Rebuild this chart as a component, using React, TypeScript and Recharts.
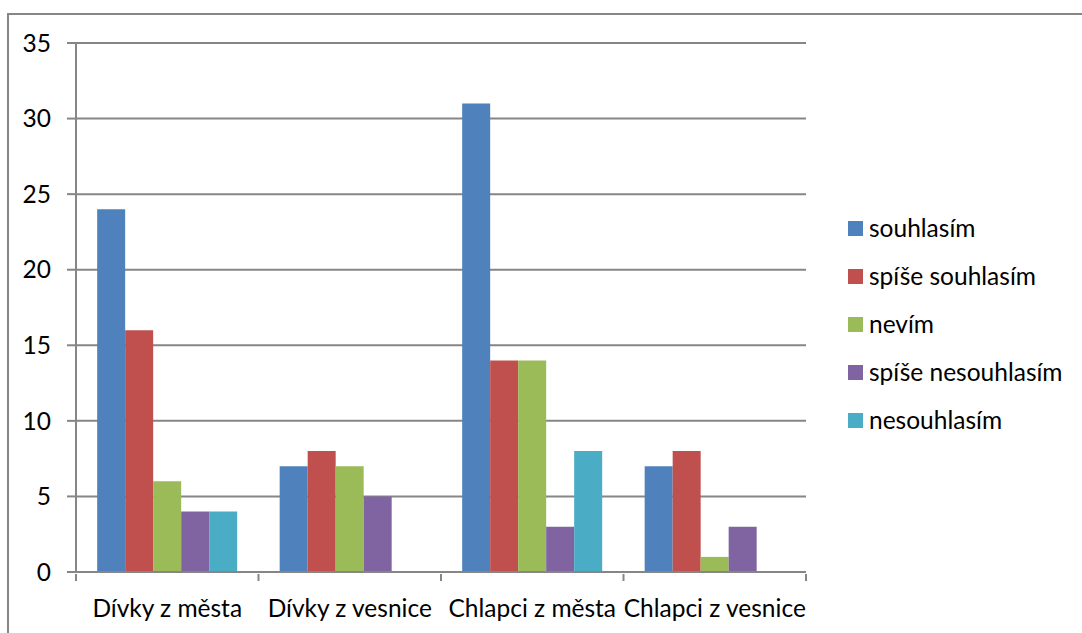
import { Bar, BarChart, CartesianGrid, XAxis, YAxis } from 'recharts';

const categories = ['Dívky z města', 'Dívky z vesnice', 'Chlapci z města', 'Chlapci z vesnice'];
const souhlasim = [24, 7, 31, 7];
const spiseSouhlasim = [16, 8, 14, 8];
const nevim = [6, 7, 14, 1];
const spiseNesouhlasim = [4, 5, 3, 3];
const nesouhlasim = [4, 0, 8, 0];
const yTicks = [0, 5, 10, 15, 20, 25, 30, 35];

const series = [
  { key: 'souhlasim', name: 'souhlasím', color: '#4F81BD', values: souhlasim },
  { key: 'spiseSouhlasim', name: 'spíše souhlasím', color: '#C0504D', values: spiseSouhlasim },
  { key: 'nevim', name: 'nevím', color: '#9BBB59', values: nevim },
  { key: 'spiseNesouhlasim', name: 'spíše nesouhlasím', color: '#8064A2', values: spiseNesouhlasim },
  { key: 'nesouhlasim', name: 'nesouhlasím', color: '#4BACC6', values: nesouhlasim },
];

const data = categories.map((name, i) => {
  const row: Record<string, string | number> = { name };
  series.forEach((s) => (row[s.key] = s.values[i]));
  return row;
});

const W = 1082;
const H = 633;
const PLOT_LEFT = 76;
const PLOT_RIGHT = 806;
const FONT = 'Lato, "Open Sans", sans-serif';
const FONT_SIZE = 24.5;
const AXIS = '#868686';

const halfBand = (PLOT_RIGHT - PLOT_LEFT) / categories.length / 2;

function CategoryTick(props: any) {
  const { x, y, payload, index } = props;
  return (
    <g>
      <line x1={x - halfBand} x2={x - halfBand} y1={y} y2={y + 7} stroke={AXIS} strokeWidth={2} />
      {index === categories.length - 1 && (
        <line x1={x + halfBand} x2={x + halfBand} y1={y} y2={y + 7} stroke={AXIS} strokeWidth={2} />
      )}
      <text x={x} y={y + 43} textAnchor="middle" fill="#000" fontSize={FONT_SIZE} fontFamily={FONT}>
        {payload.value}
      </text>
    </g>
  );
}

export default function App() {
  return (
    <div style={{ position: 'relative', width: W, height: H, overflow: 'hidden', background: '#fff', fontFamily: FONT }}>
      <style>{'body{margin:0}'}</style>
      <div
        style={{
          position: 'absolute',
          left: 7,
          top: 13,
          width: 1200,
          height: 800,
          border: `2px solid ${AXIS}`,
        }}
      />
      <div style={{ position: 'absolute', left: 0, top: 0 }}>
        <BarChart
          width={W}
          height={H}
          data={data}
          margin={{ top: 43, right: W - PLOT_RIGHT, bottom: 31, left: 0 }}
          barCategoryGap="11.6%"
          barGap={0}
        >
          <CartesianGrid horizontal vertical={false} stroke={AXIS} strokeWidth={2} />
          <XAxis
            dataKey="name"
            height={30}
            tickSize={0}
            tickLine={false}
            axisLine={{ stroke: AXIS, strokeWidth: 2 }}
            tick={<CategoryTick />}
            interval={0}
          />
          <YAxis
            width={PLOT_LEFT}
            domain={[0, 35]}
            ticks={yTicks}
            interval={0}
            tickSize={9}
            tickMargin={16}
            tickLine={{ stroke: AXIS, strokeWidth: 2 }}
            axisLine={{ stroke: AXIS, strokeWidth: 2 }}
            tick={{ fill: '#000', fontSize: FONT_SIZE, fontFamily: FONT }}
          />
          {series.map((s) => (
            <Bar key={s.key} dataKey={s.key} name={s.name} fill={s.color} isAnimationActive={false} />
          ))}
        </BarChart>
      </div>
      <div style={{ position: 'absolute', left: 848, top: 204 }}>
        {series.map((s) => (
          <div key={s.key} style={{ display: 'flex', alignItems: 'center', height: 48 }}>
            <span style={{ display: 'inline-block', width: 15, height: 15, background: s.color, marginRight: 6 }} />
            <span style={{ fontSize: FONT_SIZE, color: '#000', lineHeight: '34px' }}>{s.name}</span>
          </div>
        ))}
      </div>
    </div>
  );
}
